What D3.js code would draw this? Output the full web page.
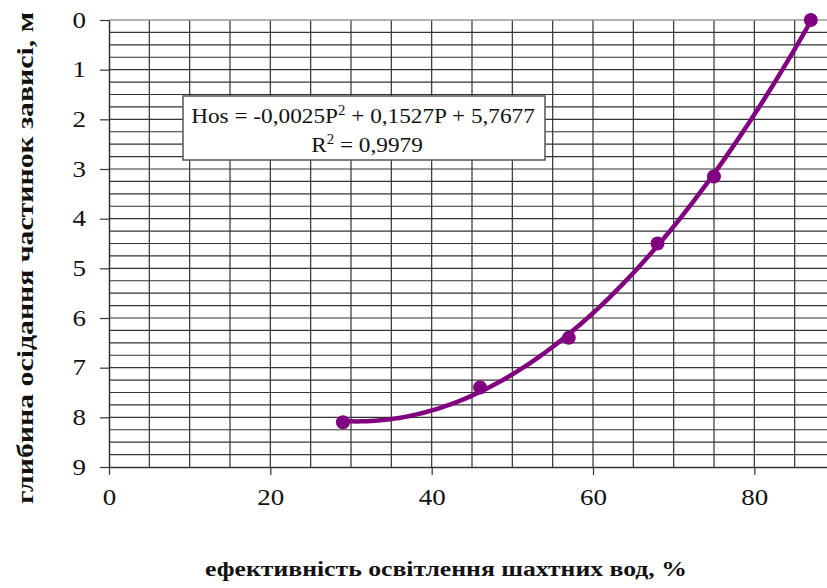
<!DOCTYPE html>
<html>
<head>
<meta charset="utf-8">
<script src="https://cdnjs.cloudflare.com/ajax/libs/d3/7.8.5/d3.min.js"></script>
</head>
<body style="margin:0;background:#fff">
<script>
// efficiency of clarification, %
const efficiency = [29, 46, 57, 68, 75, 87];
// settling depth, m
const depth = [8.1, 7.4, 6.4, 4.5, 3.15, 0];
const xTicks = [0, 20, 40, 60, 80];
const yTicks = [0, 1, 2, 3, 4, 5, 6, 7, 8, 9];
const equationLines = ["Hos = -0,0025P", " + 0,1527P + 5,7677"];
const r2Text = "0,9979";
const xTitle = "ефективність освітлення шахтних вод, %";
const yTitle = "глибина осідання частинок зависі, м";

const w = 827, h = 588;
const margin = {top: 20, left: 109, bottom: 121, right: -8};
const serif = "'Liberation Serif', 'Times New Roman', serif";
const tickStretch = 1.2; // tick digits in the picture are wider than tall

const svg = d3.select("body").append("svg")
  .attr("width", w).attr("height", h)
  .style("display", "block");

const x = d3.scaleLinear().domain([0, 90]).range([margin.left, w - margin.right]);
const y = d3.scaleLinear().domain([0, 9]).range([margin.top, h - margin.bottom]);

// grid: every 5 on x, every 0.25 on y
const grid = svg.append("g").attr("class", "grid");
grid.selectAll(".vgrid")
  .data(d3.range(5, 91, 5))
  .enter().append("line")
    .attr("x1", d => x(d)).attr("x2", d => x(d))
    .attr("y1", y(0)).attr("y2", y(9))
    .attr("stroke", "#333").attr("stroke-width", 1.2);
grid.selectAll(".hgrid")
  .data(d3.range(0.25, 9, 0.25))
  .enter().append("line")
    .attr("x1", x(0)).attr("x2", x(90))
    .attr("y1", d => y(d)).attr("y2", d => y(d))
    .attr("stroke", "#333").attr("stroke-width", 1.2);
// top border
grid.append("line")
  .attr("x1", x(0)).attr("x2", x(90))
  .attr("y1", y(0)).attr("y2", y(0))
  .attr("stroke", "#999").attr("stroke-width", 1.5);

// axes
const yAxis = d3.axisLeft(y).tickValues(yTicks).tickSize(9).tickPadding(14).tickSizeOuter(0);
const xAxis = d3.axisBottom(x).tickValues(xTicks).tickSize(8).tickPadding(14).tickSizeOuter(0);

const gy = svg.append("g").attr("transform", "translate(" + x(0) + ",0)").call(yAxis);
const gx = svg.append("g").attr("transform", "translate(0," + y(9) + ")").call(xAxis);
[gx, gy].forEach(g => {
  g.select(".domain").attr("stroke", "#333").attr("stroke-width", 1.5);
  g.selectAll(".tick line").attr("stroke", "#333").attr("stroke-width", 1.2);
  g.selectAll(".tick text")
    .style("font-family", serif).style("font-size", "22.5px").attr("fill", "#111")
    .each(function() {
      const t = d3.select(this);
      const tx = +t.attr("x") || 0, ty = +t.attr("y") || 0;
      t.attr("x", 0).attr("y", 0)
        .attr("transform", "translate(" + tx + "," + ty + ") scale(" + tickStretch + ",1)");
    });
});

// polynomial (order 2) trendline, least squares fit of the points
function fitQuad(xs, ys) {
  const S = [0, 0, 0, 0, 0], T = [0, 0, 0];
  xs.forEach((xv, i) => {
    for (let k = 0; k < 5; k++) S[k] += Math.pow(xv, k);
    for (let k = 0; k < 3; k++) T[k] += Math.pow(xv, k) * ys[i];
  });
  const A = [[S[0], S[1], S[2], T[0]], [S[1], S[2], S[3], T[1]], [S[2], S[3], S[4], T[2]]];
  for (let i = 0; i < 3; i++) {
    for (let j = i + 1; j < 3; j++) {
      const f = A[j][i] / A[i][i];
      for (let k = i; k < 4; k++) A[j][k] -= f * A[i][k];
    }
  }
  const c = [0, 0, 0];
  for (let i = 2; i >= 0; i--) {
    let s = A[i][3];
    for (let k = i + 1; k < 3; k++) s -= A[i][k] * c[k];
    c[i] = s / A[i][i];
  }
  return c;
}
const coef = fitQuad(efficiency, depth);
const ext = d3.extent(efficiency);
const trend = d3.range(0, 101).map(i => {
  const p = ext[0] + (ext[1] - ext[0]) * i / 100;
  return [p, coef[0] + coef[1] * p + coef[2] * p * p];
});

const line = d3.line().x(d => x(d[0])).y(d => y(d[1]));
svg.append("path")
  .datum(trend)
  .attr("d", line)
  .attr("fill", "none")
  .attr("stroke", "#800080")
  .attr("stroke-width", 4.5);

svg.selectAll(".dot")
  .data(efficiency)
  .enter().append("circle")
    .attr("cx", d => x(d))
    .attr("cy", (d, i) => y(depth[i]))
    .attr("r", 7)
    .attr("fill", "#800080");

// squeeze or widen a text so it spans the width it has in the picture
function fitWidth(sel, target) {
  const len = sel.node().getBBox().width;
  return target / len;
}

// equation label
const box = svg.append("g");
box.append("rect")
  .attr("x", 183).attr("y", 96).attr("width", 362).attr("height", 64)
  .attr("fill", "#fff").attr("stroke", "#555").attr("stroke-width", 1.5);
const eq = box.append("text")
  .attr("text-anchor", "middle").attr("fill", "#111")
  .style("font-family", serif).style("font-size", "22px");
eq.append("tspan").text(equationLines[0]);
eq.append("tspan").attr("dy", -8).style("font-size", "14px").text("2");
eq.append("tspan").attr("dy", 8).text(equationLines[1]);
const eqScale = fitWidth(eq, 344);
eq.attr("transform", "translate(363,123) scale(" + eqScale + ",1)");

const r2 = box.append("text")
  .attr("text-anchor", "middle").attr("fill", "#111")
  .style("font-family", serif).style("font-size", "22px");
r2.append("tspan").text("R");
r2.append("tspan").attr("dy", -8).style("font-size", "14px").text("2");
r2.append("tspan").attr("dy", 8).text(" = " + r2Text);
r2.attr("transform", "translate(367,152) scale(" + eqScale + ",1)");

// axis titles
const xt = svg.append("text")
  .attr("text-anchor", "middle").attr("fill", "#111")
  .style("font-family", serif).style("font-weight", "bold").style("font-size", "22px")
  .text(xTitle);
xt.attr("transform", "translate(446,576) scale(" + fitWidth(xt, 482) + ",1)");

const yt = svg.append("text")
  .attr("text-anchor", "middle").attr("fill", "#111")
  .style("font-family", serif).style("font-weight", "bold").style("font-size", "24px")
  .text(yTitle);
yt.attr("transform", "translate(33,258) rotate(-90) scale(" + fitWidth(yt, 492) + ",1)");
</script>
</body>
</html>
